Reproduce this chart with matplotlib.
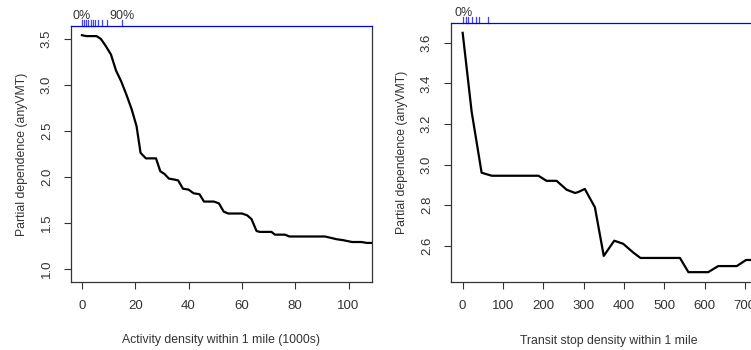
import numpy as np
import matplotlib
matplotlib.use('Agg')
import matplotlib.pyplot as plt

plt.rcParams['font.family'] = ['Liberation Sans', 'DejaVu Sans']

# left panel: activity density
act_x = [0, 1.7, 5.5, 7.1, 9.0, 10.9, 12.8, 14.7, 16.6, 18.6, 20.5, 22.0, 24.0, 27.8,
         29.4, 31.0, 32.6, 34.6, 36.1, 37.9, 40.0, 41.9, 44.1, 45.8, 49.5, 51.4, 53.2,
         54.9, 60.1, 62.0, 63.6, 65.5, 66.7, 71.1, 72.4, 76.2, 77.8, 91.2, 95.6, 98.0,
         101.3, 104.9, 106.9, 110.0]
act_y = [3.54, 3.53, 3.53, 3.50, 3.42, 3.33, 3.155, 3.04, 2.90, 2.74, 2.55, 2.26, 2.20, 2.20,
         2.06, 2.03, 1.98, 1.97, 1.96, 1.87, 1.86, 1.82, 1.81, 1.73, 1.73, 1.71, 1.62,
         1.60, 1.60, 1.58, 1.54, 1.41, 1.40, 1.40, 1.37, 1.37, 1.35, 1.35, 1.32, 1.31,
         1.29, 1.29, 1.28, 1.28]
act_deciles = [0, 0.7, 1.4, 2.4, 3.3, 4.1, 5.1, 6.1, 7.4, 9.6, 14.9]

# right panel: transit stop density
stop_x = [0, 22.3, 47, 72, 188, 208, 233, 258, 279, 287, 303, 314, 328, 350, 376, 398,
          423, 441, 539, 560, 609, 634, 680, 703, 725]
stop_y = [3.649, 3.26, 2.96, 2.945, 2.945, 2.92, 2.92, 2.876, 2.86, 2.865, 2.88, 2.84,
          2.79, 2.55, 2.625, 2.61, 2.567, 2.54, 2.54, 2.47, 2.47, 2.50, 2.50, 2.53, 2.53]
stop_deciles = [1.5, 7.4, 14, 22, 32, 41, 64]

txt = '#333333'
fig = plt.figure(figsize=(7.51, 3.5), dpi=100)
ax1 = fig.add_axes([0.0945, 0.1943, 0.4008, 0.7314])
ax2 = fig.add_axes([0.6005, 0.1934, 0.4203, 0.7400])


def style(ax, xticks, yticks, xlim, ylim, xlabel):
    ax.set_xlim(xlim)
    ax.set_ylim(ylim)
    ax.set_xticks(xticks)
    ax.set_yticks(yticks)
    ax.set_yticklabels(['%.1f' % v for v in yticks], rotation=90, va='center')
    ax.tick_params(direction='out', length=5, width=0.8, color=txt, labelcolor=txt,
                   labelsize=9.5, pad=8)
    for s in ax.spines.values():
        s.set_color(txt)
        s.set_linewidth(0.9)
    ax.spines['top'].set_color('#0000ff')
    ax.set_xlabel(xlabel, fontsize=8.8, color=txt, labelpad=16)
    ax.set_ylabel('Partial dependence (anyVMT)', fontsize=8.8, color=txt, labelpad=9)


def rug(ax, deciles, labels):
    for d in deciles:
        ax.plot([d, d], [1.0, 1.025], transform=ax.get_xaxis_transform(),
                color='#4040ff', lw=0.9, clip_on=False)
    for d, lab in labels:
        ax.text(d, 1.015, lab, transform=ax.get_xaxis_transform(), ha='center',
                va='bottom', fontsize=9, color=txt)


ax1.plot(act_x, act_y, color='black', lw=1.6)
style(ax1, [0, 20, 40, 60, 80, 100], [1.0, 1.5, 2.0, 2.5, 3.0, 3.5],
      (-4.1, 108.8), (0.855, 3.64), 'Activity density within 1 mile (1000s)')
rug(ax1, act_deciles, [(act_deciles[0], '0%'), (act_deciles[-1], '90%')])

ax2.plot(stop_x, stop_y, color='black', lw=1.6)
style(ax2, [0, 100, 200, 300, 400, 500, 600, 700], [2.6, 2.8, 3.0, 3.2, 3.4, 3.6],
      (-29, 754), (2.42, 3.696), 'Transit stop density within 1 mile')
rug(ax2, stop_deciles, [(stop_deciles[0], '0%')])

fig.savefig('out.png', dpi=100)
